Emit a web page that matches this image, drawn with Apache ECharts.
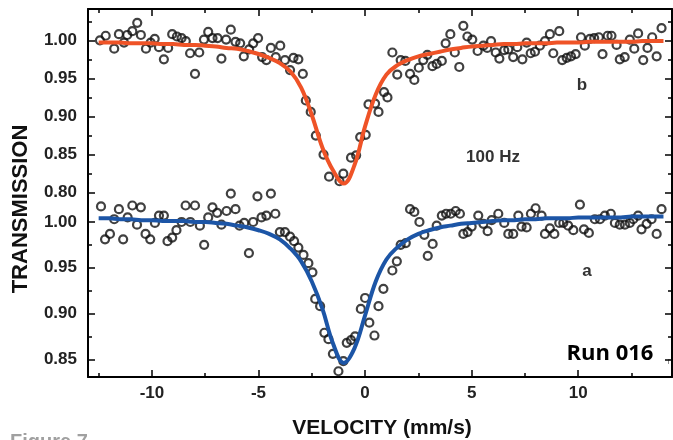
<!DOCTYPE html>
<html>
<head>
<meta charset="utf-8">
<script src="https://cdn.jsdelivr.net/npm/echarts@6/dist/echarts.min.js"></script>
<style>
html, body { margin: 0; padding: 0; background: #fff; }
#chart { width: 673px; height: 440px; }
</style>
</head>
<body>
<div id="chart"></div>
<script>
// spectrum b (top, 100 Hz) - measured points
var velB = [-12.44,-12.17,-11.77,-11.55,-11.31,-11.16,-10.92,-10.69,-10.52,-10.28,-10.06,-9.87,-9.67,-9.44,-9.24,-9.05,-8.83,-8.61,-8.41,-8.21,-7.98,-7.78,-7.56,-7.36,-7.16,-6.92,-6.74,-6.52,-6.30,-6.08,-5.86,-5.69,-5.44,-5.25,-5.02,-4.83,-4.63,-4.42,-4.19,-3.98,-3.76,-3.52,-3.36,-3.13,-2.92,-2.78,-2.55,-2.31,-1.95,-1.69,-1.20,-1.02,-0.66,-0.42,-0.23,0.03,0.16,0.47,0.63,0.89,1.05,1.28,1.51,1.67,1.89,2.11,2.31,2.52,2.73,2.92,3.16,3.36,3.60,3.78,4.00,4.21,4.42,4.61,4.80,5.03,5.28,5.55,5.73,5.91,6.13,6.30,6.53,6.72,6.95,7.14,7.38,7.58,7.77,7.97,8.20,8.44,8.67,8.83,9.11,9.25,9.46,9.66,9.88,10.13,10.31,10.55,10.75,10.97,11.14,11.38,11.56,11.80,11.95,12.18,12.42,12.63,12.81,13.05,13.25,13.47,13.68,13.91];
var transB = [1.000,1.006,0.989,1.008,0.997,1.007,1.012,1.023,1.007,0.989,0.997,1.002,0.991,0.975,0.990,1.008,1.005,1.003,0.999,0.983,0.956,0.984,1.001,1.011,1.003,1.003,0.976,1.001,1.014,0.998,0.996,0.979,0.988,0.996,1.003,0.978,0.974,0.990,0.978,0.993,0.974,0.961,0.977,0.975,0.956,0.921,0.906,0.875,0.850,0.821,0.815,0.825,0.846,0.849,0.873,0.876,0.916,0.917,0.906,0.932,0.925,0.984,0.955,0.974,0.973,0.956,0.948,0.964,0.974,0.981,0.966,0.969,0.973,0.996,1.008,0.984,0.965,1.019,1.005,1.001,0.986,0.993,0.990,0.999,0.984,0.976,0.987,0.988,0.978,0.991,0.975,0.997,0.983,0.985,0.993,0.999,1.008,0.983,1.012,0.974,0.977,0.979,0.982,1.004,0.993,1.002,1.003,1.004,0.982,1.006,1.006,0.994,0.975,0.978,1.001,0.989,1.009,0.974,0.990,1.004,0.979,1.016];

// spectrum a (bottom) - measured points
var velA = [-12.39,-12.20,-11.97,-11.77,-11.55,-11.35,-11.14,-10.92,-10.70,-10.52,-10.30,-10.08,-9.86,-9.67,-9.44,-9.27,-9.05,-8.85,-8.61,-8.42,-8.20,-7.98,-7.75,-7.55,-7.36,-7.16,-6.94,-6.74,-6.50,-6.30,-6.08,-5.89,-5.67,-5.45,-5.25,-5.05,-4.86,-4.63,-4.42,-4.21,-4.00,-3.76,-3.52,-3.33,-3.13,-2.89,-2.66,-2.47,-2.34,-2.11,-1.91,-1.72,-1.51,-1.25,-1.02,-0.86,-0.66,-0.47,-0.20,0.00,0.20,0.44,0.63,0.86,1.28,1.49,1.67,1.91,2.11,2.31,2.55,2.78,2.94,3.17,3.36,3.60,3.80,4.02,4.25,4.45,4.61,4.81,5.00,5.31,5.55,5.75,5.94,6.25,6.53,6.72,6.95,7.19,7.34,7.58,7.78,8.00,8.28,8.44,8.67,8.88,9.11,9.30,9.53,9.77,10.08,10.27,10.50,10.78,11.02,11.25,11.53,11.72,11.95,12.19,12.42,12.58,12.81,12.97,13.21,13.44,13.68,13.91];
var transA = [1.017,0.981,0.987,1.003,1.014,0.981,1.005,1.018,0.997,1.016,0.987,0.981,0.999,1.007,1.007,0.979,0.983,0.991,1.000,1.018,1.000,1.018,0.996,0.975,1.005,1.016,1.010,0.997,1.012,1.031,1.014,0.996,0.999,0.966,1.000,1.028,1.005,1.007,1.031,1.009,0.989,0.989,0.984,0.979,0.972,0.964,0.955,0.945,0.916,0.908,0.879,0.872,0.856,0.837,0.848,0.868,0.871,0.875,0.905,0.917,0.890,0.876,0.908,0.927,0.947,0.957,0.975,0.977,1.014,1.011,1.000,0.986,0.963,0.976,0.996,1.007,1.009,1.009,1.012,1.009,0.987,0.989,0.995,1.007,0.998,0.990,1.002,1.009,0.999,0.987,0.987,1.007,0.995,0.994,1.009,1.015,1.007,0.987,0.993,0.987,0.999,0.999,0.996,0.991,1.019,0.992,0.988,1.003,1.003,1.007,1.009,0.999,0.997,0.997,0.999,1.003,1.007,0.992,0.998,1.003,0.987,1.014];

// fitted curves, every 0.5 mm/s
var fitVel = [-12.5,-12,-11.5,-11,-10.5,-10,-9.5,-9,-8.5,-8,-7.5,-7,-6.5,-6,-5.5,-5,-4.5,-4,-3.5,-3,-2.5,-2,-1.5,-1,-0.5,0,0.5,1,1.5,2,2.5,3,3.5,4,4.5,5,5.5,6,6.5,7,7.5,8,8.5,9,9.5,10,10.5,11,11.5,12,12.5,13,13.5,14];
var fitB = [0.997,0.997,0.997,0.996,0.996,0.996,0.995,0.995,0.994,0.994,0.993,0.992,0.990,0.989,0.986,0.982,0.977,0.970,0.959,0.938,0.902,0.859,0.829,0.812,0.836,0.887,0.929,0.955,0.967,0.974,0.979,0.982,0.985,0.988,0.990,0.992,0.993,0.994,0.995,0.995,0.996,0.996,0.996,0.997,0.997,0.997,0.998,0.998,0.998,0.998,0.998,0.999,0.999,0.999];
var fitA = [1.004,1.004,1.003,1.003,1.002,1.002,1.001,1.001,1.001,1.000,1.000,0.999,0.998,0.996,0.994,0.991,0.987,0.981,0.971,0.957,0.935,0.905,0.867,0.846,0.862,0.898,0.935,0.959,0.972,0.981,0.987,0.991,0.994,0.996,0.998,0.999,1.000,1.001,1.002,1.002,1.003,1.003,1.004,1.004,1.004,1.005,1.005,1.005,1.005,1.005,1.006,1.006,1.006,1.006];

var xMajor = [-10, -5, 0, 5, 10];
var xMinor = [-12.5, -7.5, -2.5, 2.5, 7.5, 12.5];
var yMajorB = [0.80, 0.85, 0.90, 0.95, 1.00];
var yMinorB = [0.825, 0.875, 0.925, 0.975, 1.025];
var yMajorA = [0.85, 0.90, 0.95, 1.00];
var yMinorA = [0.875, 0.925, 0.975];

function pairs(xs, ys) {
  return xs.map(function (x, i) { return [x, ys[i]]; });
}

var labelFont = {
  fontFamily: 'Liberation Sans, Arial, sans-serif',
  fontWeight: 'bold',
  fontSize: 17,
  color: '#222'
};

// one axis = one set of ticks (major or minor), so several axes share a grid
function axis(type, gridIndex, position, min, max, ticks, len, showLabel, showLine, margin) {
  var a = {
    type: 'value',
    gridIndex: gridIndex,
    position: position,
    min: min,
    max: max,
    axisLine: { show: showLine, onZero: false, lineStyle: { color: '#000', width: 2 } },
    axisTick: { show: true, inside: true, length: len, customValues: ticks, lineStyle: { color: '#000', width: 1.5 } },
    axisLabel: { show: false },
    splitLine: { show: false }
  };
  if (showLabel) {
    a.axisLabel = Object.assign({
      show: true,
      customValues: ticks,
      margin: margin,
      formatter: type === 'y' ? function (v) { return v.toFixed(2); } : function (v) { return String(v); }
    }, labelFont);
  }
  return a;
}

var XMIN = -13, XMAX = 14.4;
var B_MIN = 0.7904, B_MAX = 1.0411;
var A_MIN = 0.8307, A_MAX = 1.0240;

var chart = echarts.init(document.getElementById('chart'));

var option = {
  animation: false,
  backgroundColor: '#fff',
  grid: [
    { left: 88, right: 1, top: 9, height: 191 },
    { left: 88, right: 1, top: 200, height: 177 }
  ],
  xAxis: [
    axis('x', 0, 'top', XMIN, XMAX, xMajor, 7, false, true),
    axis('x', 0, 'top', XMIN, XMAX, xMinor, 4, false, false),
    axis('x', 1, 'bottom', XMIN, XMAX, xMajor, 7, true, true, 8),
    axis('x', 1, 'bottom', XMIN, XMAX, xMinor, 4, false, false)
  ],
  yAxis: [
    axis('y', 0, 'left', B_MIN, B_MAX, yMajorB, 7, true, true, 11),
    axis('y', 0, 'left', B_MIN, B_MAX, yMinorB, 4, false, false),
    axis('y', 0, 'right', B_MIN, B_MAX, yMajorB, 7, false, true),
    axis('y', 0, 'right', B_MIN, B_MAX, yMinorB, 4, false, false),
    axis('y', 1, 'left', A_MIN, A_MAX, yMajorA, 7, true, true, 11),
    axis('y', 1, 'left', A_MIN, A_MAX, yMinorA, 4, false, false),
    axis('y', 1, 'right', A_MIN, A_MAX, yMajorA, 7, false, true),
    axis('y', 1, 'right', A_MIN, A_MAX, yMinorA, 4, false, false)
  ],
  series: [
    {
      name: 'b', type: 'scatter', xAxisIndex: 0, yAxisIndex: 0,
      data: pairs(velB, transB), symbol: 'circle', symbolSize: 8, clip: false,
      itemStyle: { color: 'rgba(0,0,0,0)', borderColor: '#111', borderWidth: 2.2 }
    },
    {
      name: 'a', type: 'scatter', xAxisIndex: 2, yAxisIndex: 4,
      data: pairs(velA, transA), symbol: 'circle', symbolSize: 8, clip: false,
      itemStyle: { color: 'rgba(0,0,0,0)', borderColor: '#111', borderWidth: 2.2 }
    },
    {
      name: 'fit b', type: 'line', xAxisIndex: 0, yAxisIndex: 0,
      data: pairs(fitVel, fitB), showSymbol: false, smooth: 0.4, z: 3,
      lineStyle: { color: '#ef5327', width: 4 }
    },
    {
      name: 'fit a', type: 'line', xAxisIndex: 2, yAxisIndex: 4,
      data: pairs(fitVel, fitA), showSymbol: false, smooth: 0.4, z: 3,
      lineStyle: { color: '#1c55a6', width: 4 }
    }
  ],
  graphic: [
    { type: 'text', x: 21, y: 209, rotation: Math.PI / 2,
      style: { text: 'TRANSMISSION', x: 0, y: 0, textAlign: 'center', textVerticalAlign: 'middle', font: 'bold 22px "Liberation Sans", Arial, sans-serif', fill: '#111' } },
    { type: 'text',
      style: { text: 'VELOCITY (mm/s)', x: 382, y: 428, textAlign: 'center', textVerticalAlign: 'middle', font: 'bold 21px "Liberation Sans", Arial, sans-serif', fill: '#111' } },
    { type: 'text',
      style: { text: 'b', x: 582, y: 85, textAlign: 'center', textVerticalAlign: 'middle', font: 'bold 17px "Liberation Sans", Arial, sans-serif', fill: '#333' } },
    { type: 'text',
      style: { text: '100 Hz', x: 493, y: 157, textAlign: 'center', textVerticalAlign: 'middle', font: 'bold 17px "Liberation Sans", Arial, sans-serif', fill: '#333' } },
    { type: 'text',
      style: { text: 'a', x: 587, y: 271, textAlign: 'center', textVerticalAlign: 'middle', font: 'bold 17px "Liberation Sans", Arial, sans-serif', fill: '#333' } },
    { type: 'text',
      style: { text: 'Run 016', x: 610, y: 354, textAlign: 'center', textVerticalAlign: 'middle', font: 'bold 22px "Open Sans", sans-serif', fill: '#000' } },
    { type: 'text',
      style: { text: 'Figure 7', x: 10, y: 432, textAlign: 'left', textVerticalAlign: 'top', font: 'bold 20px "Liberation Sans", Arial, sans-serif', fill: '#a0a0a0' } },
    { type: 'text',
      style: { text: 'r', x: 669, y: 362, textAlign: 'center', textVerticalAlign: 'middle', font: '9px "Liberation Sans", Arial, sans-serif', fill: '#777' } }
  ]
};

chart.setOption(option);
window.addEventListener('resize', function () { chart.resize(); });
</script>
</body>
</html>
